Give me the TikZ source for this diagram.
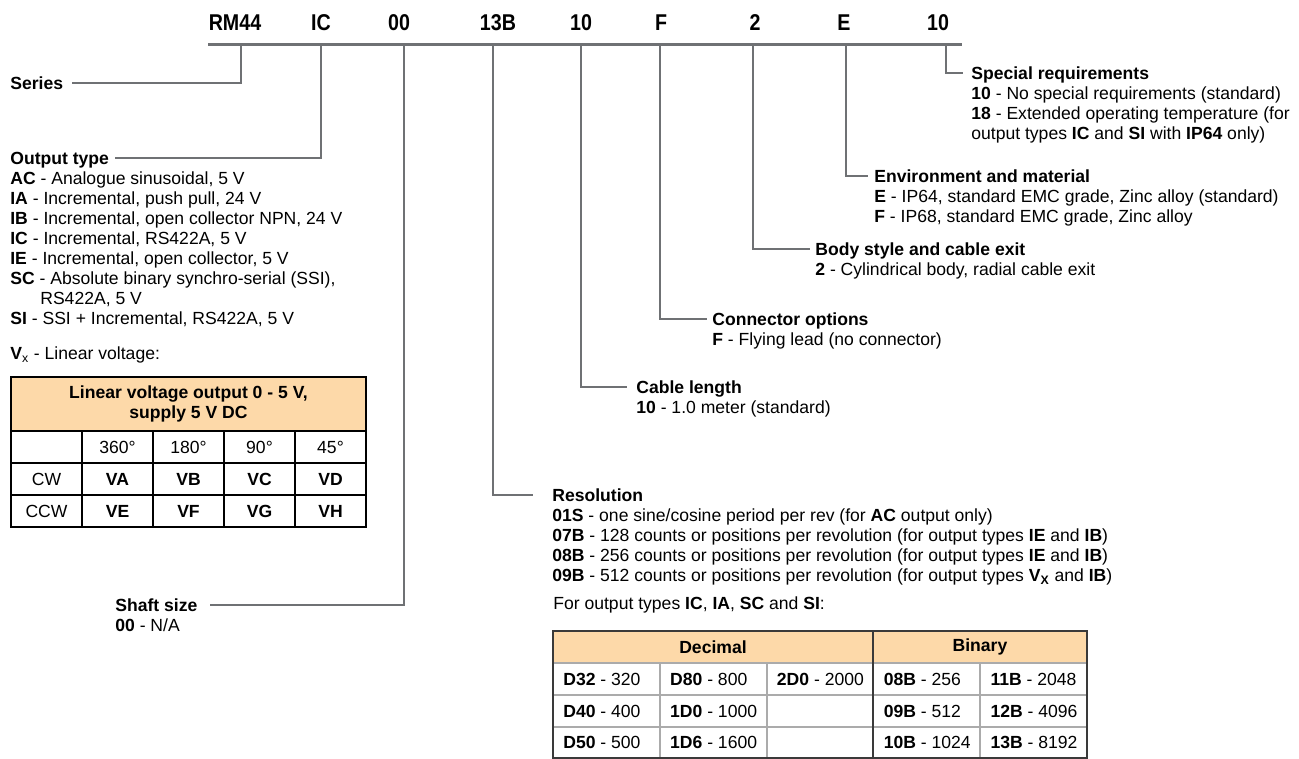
\documentclass[tikz,border=0pt]{standalone}
\usepackage{fontspec}
\setmainfont{Liberation Sans}
\usepackage{graphicx}
\usetikzlibrary{positioning,calc}
\definecolor{leadgray}{HTML}{6F7174}
\definecolor{headpeach}{HTML}{FDD9A9}
\definecolor{gridgray}{HTML}{ABABAB}
\definecolor{framedark}{HTML}{3A3A3A}
\newcommand{\slimcode}[1]{\scalebox{0.86}[1]{#1}}

\begin{document}
\begin{tikzpicture}[x=0.02cm, y=-0.02cm,
  every node/.style={inner sep=0pt, font=\fontsize{10}{11.38}\selectfont},
  code/.style={anchor=base, font=\fontsize{13}{15}\selectfont\bfseries},
  heading/.style={anchor=west, font=\fontsize{10}{11.38}\selectfont\bfseries, text height=0.25cm, text depth=0pt},
  items/.style={anchor=north west, align=left},
  lead/.style={leadgray, line width=1.4pt},
  lcell/.style={anchor=west}
]
  \useasboundingbox (0,0) rectangle (1299,759);

  % part number
  \node[code] (cSer) at (235,31) {\slimcode{RM44}};
  \node[code] (cOut) at (321,31) {\slimcode{IC}};
  \node[code] (cShaft) at (399,31) {\slimcode{00}};
  \node[code] (cRes) at (498,31) {\slimcode{13B}};
  \node[code] (cCab) at (581,31) {\slimcode{10}};
  \node[code] (cCon) at (661,31) {\slimcode{F}};
  \node[code] (cBody) at (755,31) {\slimcode{2}};
  \node[code] (cEnv) at (844,31) {\slimcode{E}};
  \node[code] (cSpec) at (938,31) {\slimcode{10}};

  \coordinate (barL) at (208,45);
  \coordinate (barR) at (962,45);
  \draw[leadgray, line width=1.7pt] (barL) -- (barR);
  \foreach \n/\x in {Ser/241, Out/321, Shaft/404, Res/493, Cab/581, Con/660, Body/753, Env/846, Spec/946}
    \coordinate (t\n) at (\x,45);

  % left side
  \node[heading] (series) at (10,83) {Series};
  \draw[lead] (tSer) |- ($(series.east)+(9,0)$);

  \node[heading] (outtype) at (10,158) {Output type};
  \node[items] (outlist) at ($(outtype.south west)+(0,7.2)$) {%
    \textbf{AC} - Analogue sinusoidal, 5 V\\
    \textbf{IA} - Incremental, push pull, 24 V\\
    \textbf{IB} - Incremental, open collector NPN, 24 V\\
    \textbf{IC} - Incremental, RS422A, 5 V\\
    \textbf{IE} - Incremental, open collector, 5 V\\
    \textbf{SC} - Absolute binary synchro-serial (SSI),\\
    \hspace*{0.6cm}RS422A, 5 V\\
    \textbf{SI} - SSI + Incremental, RS422A, 5 V};
  \draw[lead] (tOut) |- ($(outtype.east)+(6,0)$);
  \node[anchor=base west] (vx) at (10,360) {\textbf{V}\textsubscript{x} - Linear voltage:};

  % linear voltage table
  \fill[headpeach] (11,377) rectangle (366,431);
  \foreach \y in {431,463,495}
    \draw[line width=0.6pt] (11,\y) -- (366,\y);
  \foreach \x in {82,153,224,295}
    \draw[line width=0.6pt] (\x,431) -- (\x,527);
  \draw[line width=1.2pt] (11,377) rectangle (366,527);
  \node[font=\fontsize{10}{11.38}\selectfont\bfseries, align=center] (lvhead) at (188.5,404) {Linear voltage output 0 - 5 V,\\supply 5 V DC};
  \foreach \lab [count=\i from 2] in {360°,180°,90°,45°}
    \node (deg\i) at ({46.5+71*(\i-1)},447) {\lab};
  \foreach \lab [count=\i] in {CW,\textbf{VA},\textbf{VB},\textbf{VC},\textbf{VD}}
    \node (cw\i) at ({46.5+71*(\i-1)},479) {\lab};
  \foreach \lab [count=\i] in {CCW,\textbf{VE},\textbf{VF},\textbf{VG},\textbf{VH}}
    \node (ccw\i) at ({46.5+71*(\i-1)},511) {\lab};

  \node[heading] (shaft) at (115,605) {Shaft size};
  \node[items] (shaftlist) at ($(shaft.south west)+(0,7.2)$) {\textbf{00} - N/A};
  \draw[lead] (tShaft) |- ($(shaft.east)+(12,0)$);

  % right side
  \node[heading] (spec) at (971,73) {Special requirements};
  \node[items] (speclist) at ($(spec.south west)+(0,7.2)$) {%
    \textbf{10} - No special requirements (standard)\\
    \textbf{18} - Extended operating temperature (for\\
    output types \textbf{IC} and \textbf{SI} with \textbf{IP64} only)};
  \draw[lead] (tSpec) |- ($(spec.west)+(-8,0)$);

  \node[heading] (env) at (874,176) {Environment and material};
  \node[items] (envlist) at ($(env.south west)+(0,7.2)$) {%
    \textbf{E} - IP64, standard EMC grade, Zinc alloy (standard)\\
    \textbf{F} - IP68, standard EMC grade, Zinc alloy};
  \draw[lead] (tEnv) |- ($(env.west)+(-6,0)$);

  \node[heading] (body) at (815,249) {Body style and cable exit};
  \node[items] (bodylist) at ($(body.south west)+(0,7.2)$) {\textbf{2} - Cylindrical body, radial cable exit};
  \draw[lead] (tBody) |- ($(body.west)+(-5,0)$);

  \node[heading] (conn) at (712,319) {Connector options};
  \node[items] (connlist) at ($(conn.south west)+(0,7.2)$) {\textbf{F} - Flying lead (no connector)};
  \draw[lead] (tCon) |- ($(conn.west)+(-5,0)$);

  \node[heading] (cable) at (636,387) {Cable length};
  \node[items] (cablelist) at ($(cable.south west)+(0,7.2)$) {\textbf{10} - 1.0 meter (standard)};
  \draw[lead] (tCab) |- ($(cable.west)+(-9,0)$);

  \node[heading] (resol) at (552,495) {Resolution};
  \node[items] (resollist) at ($(resol.south west)+(0,7.2)$) {%
    \textbf{01S} - one sine/cosine period per rev (for \textbf{AC} output only)\\
    \textbf{07B} - 128 counts or positions per revolution (for output types \textbf{IE} and \textbf{IB})\\
    \textbf{08B} - 256 counts or positions per revolution (for output types \textbf{IE} and \textbf{IB})\\
    \textbf{09B} - 512 counts or positions per revolution (for output types \textbf{V\textsubscript{X}} and \textbf{IB})};
  \draw[lead] (tRes) |- ($(resol.west)+(-19,0)$);
  \node[anchor=base west] (fortypes) at (553,610) {For output types \textbf{IC}, \textbf{IA}, \textbf{SC} and \textbf{SI}:};

  % resolution table
  \fill[headpeach] (553,631) rectangle (1087,663);
  \foreach \y in {663,695,727}
    \draw[gridgray, line width=0.8pt] (553,\y) -- (1087,\y);
  \foreach \x in {660,767,980}
    \draw[gridgray, line width=0.8pt] (\x,663) -- (\x,758);
  \draw[framedark, line width=1pt] (873,631) -- (873,758);
  \draw[framedark, line width=1pt] (553,631) rectangle (1087,758);
  \node[font=\fontsize{10}{11.38}\selectfont\bfseries] (dec) at (713,647) {Decimal};
  \node[font=\fontsize{10}{11.38}\selectfont\bfseries] (bin) at (980,647) {Binary};
  \foreach \lab/\c in {{\textbf{D32} - 320}/0, {\textbf{D80} - 800}/1, {\textbf{2D0} - 2000}/2, {\textbf{08B} - 256}/3, {\textbf{11B} - 2048}/4}
    \node[lcell] (resA\c) at ({563+106.8*\c},679) {\lab};
  \foreach \lab/\c in {{\textbf{D40} - 400}/0, {\textbf{1D0} - 1000}/1, {\textbf{09B} - 512}/3, {\textbf{12B} - 4096}/4}
    \node[lcell] (resB\c) at ({563+106.8*\c},711) {\lab};
  \foreach \lab/\c in {{\textbf{D50} - 500}/0, {\textbf{1D6} - 1600}/1, {\textbf{10B} - 1024}/3, {\textbf{13B} - 8192}/4}
    \node[lcell] (resC\c) at ({563+106.8*\c},742.5) {\lab};
\end{tikzpicture}
\end{document}
